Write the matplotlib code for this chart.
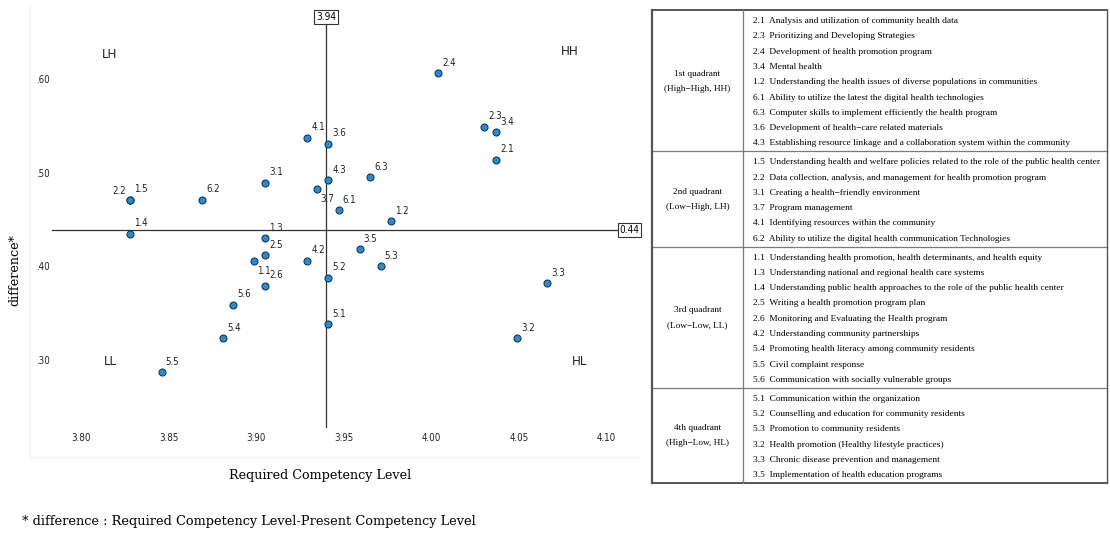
import matplotlib
matplotlib.use('Agg')
import matplotlib.pyplot as plt
from matplotlib.transforms import blended_transform_factory

# ---------------- data ----------------
codes = ['2.1', '2.3', '2.4', '3.4', '1.2', '6.1', '6.3', '3.6', '4.3',
         '1.5', '2.2', '3.1', '3.7', '4.1', '6.2',
         '1.1', '1.3', '1.4', '2.5', '2.6', '4.2', '5.4', '5.5', '5.6',
         '5.1', '5.2', '5.3', '3.2', '3.3', '3.5']
required = [4.037, 4.030, 4.004, 4.037, 3.977, 3.947, 3.965, 3.941, 3.941,
            3.828, 3.828, 3.905, 3.935, 3.929, 3.869,
            3.899, 3.905, 3.828, 3.905, 3.905, 3.929, 3.881, 3.846, 3.887,
            3.941, 3.941, 3.971, 4.049, 4.066, 3.959]
difference = [0.515, 0.550, 0.607, 0.544, 0.449, 0.461, 0.496, 0.532, 0.493,
              0.472, 0.472, 0.490, 0.484, 0.538, 0.472,
              0.407, 0.431, 0.436, 0.413, 0.380, 0.407, 0.324, 0.288, 0.360,
              0.339, 0.389, 0.401, 0.324, 0.383, 0.419]

x_ticks = [3.80, 3.85, 3.90, 3.95, 4.00, 4.05, 4.10]
x_tick_labels = ['3.80', '3.85', '3.90', '3.95', '4.00', '4.05', '4.10']
y_ticks = [0.30, 0.40, 0.50, 0.60]
y_tick_labels = ['.30', '.40', '.50', '.60']

mean_required = 3.94
mean_difference = 0.44
mean_required_label = '3.94'
mean_difference_label = '0.44'

quadrant_codes = ['LH', 'HH', 'LL', 'HL']

quadrant_names = ['1st quadrant', '2nd quadrant', '3rd quadrant', '4th quadrant']
quadrant_types = ['(High\u2212High, HH)', '(Low\u2212High, LH)',
                  '(Low\u2212Low, LL)', '(High\u2212Low, HL)']
items_q1 = ['2.1  Analysis and utilization of community health data',
            '2.3  Prioritizing and Developing Strategies',
            '2.4  Development of health promotion program',
            '3.4  Mental health',
            '1.2  Understanding the health issues of diverse populations in communities',
            '6.1  Ability to utilize the latest the digital health technologies',
            '6.3  Computer skills to implement efficiently the health program',
            '3.6  Development of health\u2212care related materials',
            '4.3  Establishing resource linkage and a collaboration system within the community']
items_q2 = ['1.5  Understanding health and welfare policies related to the role of the public health center',
            '2.2  Data collection, analysis, and management for health promotion program',
            '3.1  Creating a health\u2212friendly environment',
            '3.7  Program management',
            '4.1  Identifying resources within the community',
            '6.2  Ability to utilize the digital health communication Technologies']
items_q3 = ['1.1  Understanding health promotion, health determinants, and health equity',
            '1.3  Understanding national and regional health care systems',
            '1.4  Understanding public health approaches to the role of the public health center',
            '2.5  Writing a health promotion program plan',
            '2.6  Monitoring and Evaluating the Health program',
            '4.2  Understanding community partnerships',
            '5.4  Promoting health literacy among community residents',
            '5.5  Civil complaint response',
            '5.6  Communication with socially vulnerable groups']
items_q4 = ['5.1  Communication within the organization',
            '5.2  Counselling and education for community residents',
            '5.3  Promotion to community residents',
            '3.2  Health promotion (Healthy lifestyle practices)',
            '3.3  Chronic disease prevention and management',
            '3.5  Implementation of health education programs']
quadrant_items = [items_q1, items_q2, items_q3, items_q4]

# ---------------- figure ----------------
W, H = 1110, 534
fig = plt.figure(figsize=(W / 100, H / 100), dpi=100)
fig.patch.set_facecolor('white')

SANS = ['DejaVu Sans']
SERIF = ['DejaVu Serif']
TSERIF = ['Liberation Serif', 'DejaVu Serif']
NARROW = dict(family=SANS, fontstretch='condensed')

ax_l, ax_r, ax_t, ax_b = 30, 640, 5, 457
ax = fig.add_axes([ax_l / W, 1 - ax_b / H, (ax_r - ax_l) / W, (ax_b - ax_t) / H])
ax.set_xlim(3.7709, 4.1191)
ax.set_ylim(0.1975, 0.6799)
ax.set_xticks([])
ax.set_yticks([])
for s in ['top', 'right']:
    ax.spines[s].set_visible(False)
for s in ['left', 'bottom']:
    ax.spines[s].set_color('#f0f0f0')
    ax.spines[s].set_linewidth(0.8)

# reference lines
ax.plot([mean_required, mean_required], [0.2296, 0.662], color='#333333', lw=0.9, zorder=1)
ax.plot([3.7834, 4.1075], [mean_difference, mean_difference], color='#333333', lw=0.9, zorder=1)
ax.text(mean_required, 0.662, mean_required_label, ha='center', va='bottom',
        fontsize=7.2, **NARROW,
        bbox=dict(boxstyle='square,pad=0.18', fc='white', ec='#333333', lw=0.8))
ax.text(4.1075, mean_difference, mean_difference_label, ha='left', va='center',
        fontsize=7.2, **NARROW,
        bbox=dict(boxstyle='square,pad=0.18', fc='white', ec='#333333', lw=0.8))

# points
ax.scatter(required, difference, s=26, c='#1f8fdc', edgecolors='#1a2a3a',
           linewidths=0.7, zorder=3)

special = {'2.2': ((-3, 3), 'right', 'bottom'),
           '3.7': ((2, -4), 'left', 'top'),
           '1.1': ((2, -4), 'left', 'top')}
for c, xv, yv in zip(codes, required, difference):
    off, ha, va = special.get(c, ((3, 4), 'left', 'bottom'))
    ax.annotate(c, (xv, yv), xytext=off, textcoords='offset points',
                ha=ha, va=va, fontsize=7, color='#222222', **NARROW)

# tick labels (inside plot, SPSS style)
tb = blended_transform_factory(ax.transData, ax.transAxes)
for xv, lab in zip(x_ticks, x_tick_labels):
    ax.text(xv, (ax_b - 438) / (ax_b - ax_t), lab, transform=tb, ha='center',
            va='center', fontsize=7, color='#222222', **NARROW)
tl = blended_transform_factory(ax.transAxes, ax.transData)
for yv, lab in zip(y_ticks, y_tick_labels):
    ax.text((43 - ax_l) / (ax_r - ax_l), yv, lab, transform=tl, ha='center',
            va='center', fontsize=7, color='#222222', **NARROW)

# quadrant labels
qpos = [(3.8166, 0.6276), (4.079, 0.6298), (3.8166, 0.299), (4.0848, 0.299)]
for q, (xv, yv) in zip(quadrant_codes, qpos):
    ax.text(xv, yv, q, ha='center', va='center', fontsize=9.5,
            color='#222222', **NARROW)

# axis titles and footnote
fig.text(15 / W, 1 - 270 / H, 'difference*', rotation=90, ha='center',
         va='center', fontsize=9.2, family=SERIF)
fig.text(320 / W, 1 - 475 / H, 'Required Competency Level', ha='center',
         va='center', fontsize=9.2, family=SERIF)
fig.text(22 / W, 1 - 522 / H,
         '* difference : Required Competency Level-Present Competency Level',
         ha='left', va='center', fontsize=9.3, family=SERIF)

# ---------------- table ----------------
tab = fig.add_axes([0, 0, 1, 1])
tab.set_xlim(0, W)
tab.set_ylim(H, 0)
tab.axis('off')
tab.patch.set_alpha(0)

x0, xd, x1 = 652, 743, 1107
line_h = 15.3
top = 10.0
bounds = [top]
for items in quadrant_items:
    bounds.append(bounds[-1] + len(items) * line_h + 3.5)

lc = '#7a7a7a'
for i, b in enumerate(bounds):
    outer = i in (0, len(bounds) - 1)
    tab.plot([x0, x1], [b, b], color='#555555' if outer else lc,
             lw=1.4 if outer else 0.9)
tab.plot([x0, x0], [bounds[0], bounds[-1]], color='#555555', lw=1.6)
tab.plot([x1, x1], [bounds[0], bounds[-1]], color='#555555', lw=1.0)
tab.plot([xd, xd], [bounds[0], bounds[-1]], color=lc, lw=0.9)

for k, items in enumerate(quadrant_items):
    t, b = bounds[k], bounds[k + 1]
    mid = (t + b) / 2
    tab.text((x0 + xd) / 2, mid - 7, quadrant_names[k], ha='center',
             va='center', fontsize=6.7, family=TSERIF)
    tab.text((x0 + xd) / 2, mid + 8, quadrant_types[k], ha='center',
             va='center', fontsize=6.7, family=TSERIF)
    for j, it in enumerate(items):
        tab.text(753, t + 11 + j * line_h, it, ha='left', va='center',
                 fontsize=6.75, family=TSERIF)

fig.savefig('out.png', dpi=100)
